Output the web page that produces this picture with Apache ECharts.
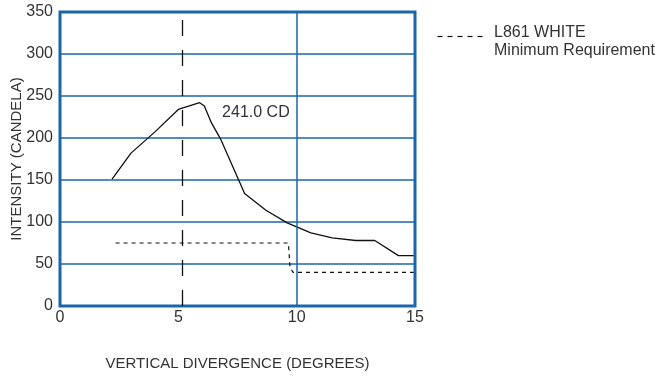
<!DOCTYPE html>
<html>
<head>
<meta charset="utf-8">
<script src="https://cdn.jsdelivr.net/npm/echarts@6/dist/echarts.min.js"></script>
<style>
  html, body { margin: 0; padding: 0; background: #fff; }
  #main { width: 658px; height: 376px; }
</style>
</head>
<body>
<div id="main"></div>
<script>
// measured intensity curve [degrees, candela]
var measured = [
    [2.2, 151], [3.0, 182], [4.0, 207], [5.0, 234], [5.9, 242], [6.1, 238],
    [6.4, 218], [6.8, 198], [7.8, 134], [8.7, 114], [9.6, 99], [10.6, 87],
    [11.5, 81], [12.5, 78], [13.3, 78], [14.3, 60], [15.0, 60]
];
// L861 white minimum requirement
var minReq = [[2.35, 75], [9.65, 75], [9.72, 46], [9.85, 40], [15, 40]];
var xTicks = [0, 5, 10, 15];
var yTicks = [0, 50, 100, 150, 200, 250, 300, 350];
var peakLabel = '241.0 CD';

var blue = '#1a66ab';
var txt = '#333';
var font = 'Liberation Sans, Arial, sans-serif';

var myChart = echarts.init(document.getElementById('main'));
var option = {
    animation: false,
    grid: {
        left: 60,
        right: 243,
        top: 12,
        bottom: 70,
        outerBoundsMode: 'none',
        containLabel: false,
        show: true,
        borderColor: blue,
        borderWidth: 3,
        z: 5
    },
    xAxis: {
        type: 'value',
        min: 0,
        max: 15,
        interval: 5,
        name: 'VERTICAL DIVERGENCE (DEGREES)',
        nameLocation: 'middle',
        nameGap: 50,
        nameTextStyle: { color: txt, fontSize: 15, fontFamily: font },
        axisLine: { show: false },
        axisTick: { show: false },
        splitLine: { show: false },
        axisLabel: {
            color: txt, fontSize: 16, fontFamily: font, margin: 4,
            customValues: xTicks
        }
    },
    yAxis: {
        type: 'value',
        min: 0,
        max: 350,
        interval: 50,
        axisLine: { show: false },
        axisTick: { show: false },
        axisLabel: {
            color: txt, fontSize: 16, fontFamily: font, margin: 7,
            customValues: yTicks
        },
        splitLine: { lineStyle: { color: blue, width: 1.5 } }
    },
    series: [{
        type: 'line',
        data: measured,
        symbol: 'none',
        lineStyle: { color: '#111', width: 1.3 },
        markPoint: {
            symbol: 'rect',
            symbolSize: 0,
            data: [{ coord: [6.85, 230] }],
            label: {
                show: true,
                position: 'right',
                distance: 0,
                formatter: peakLabel,
                color: txt,
                fontSize: 16,
                fontFamily: font
            }
        },
        markLine: {
            symbol: 'none',
            silent: true,
            label: { show: false },
            data: [
                { xAxis: 5.15, lineStyle: { color: '#111', type: [16, 14], width: 1.3 } },
                { xAxis: 10, lineStyle: { color: blue, type: 'solid', width: 1.5 } }
            ]
        }
    }, {
        type: 'line',
        data: minReq,
        symbol: 'none',
        lineStyle: { color: '#111', width: 1.2, type: [4, 4] }
    }],
    graphic: [{
        // y axis title
        type: 'text',
        x: 17,
        y: 159,
        rotation: Math.PI / 2,
        style: {
            text: 'INTENSITY (CANDELA)',
            fill: txt,
            font: '15px ' + font,
            align: 'center',
            verticalAlign: 'middle'
        }
    }, {
        type: 'line',
        left: 435,
        top: 34,
        shape: { x1: 0, y1: 0, x2: 47, y2: 0 },
        style: { stroke: '#111', lineWidth: 1.2, lineDash: [5, 5] }
    }, {
        type: 'text',
        left: 494,
        top: 24,
        style: {
            text: 'L861 WHITE\nMinimum Requirement',
            fill: txt,
            font: '16px ' + font,
            lineHeight: 18
        }
    }]
};
myChart.setOption(option);
</script>
</body>
</html>
